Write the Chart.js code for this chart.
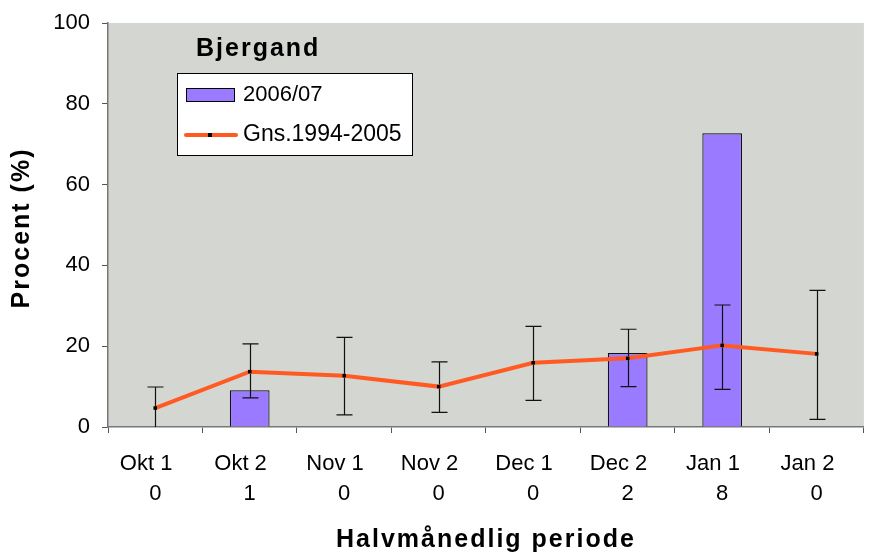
<!DOCTYPE html>
<html>
<head>
<meta charset="utf-8">
<script src="https://cdn.jsdelivr.net/npm/chart.js@4"></script>
<style>
  html, body { margin: 0; padding: 0; background: #ffffff; }
  #wrap { width: 869px; height: 557px; }
</style>
</head>
<body>
<div id="wrap"><canvas id="chart"></canvas></div>
<script>
const periods = ["Okt 1", "Okt 2", "Nov 1", "Nov 2", "Dec 1", "Dec 2", "Jan 1", "Jan 2"];
const counts = [0, 1, 0, 0, 0, 2, 8, 0];
const season = [null, 9.1, null, null, null, 18.3, 72.7, null];
const average = [4.7, 13.7, 12.7, 10.0, 15.9, 17.0, 20.2, 18.1];
const errLow = [0, 7.2, 3.0, 3.6, 6.6, 10.0, 9.3, 1.9];
const errHigh = [9.9, 20.6, 22.2, 16.1, 24.9, 24.2, 30.2, 33.8];
const chartTitle = "Bjergand";
const xTitle = "Halvmånedlig periode";
const yTitle = "Procent (%)";

const FONT = "'Liberation Sans', Arial, sans-serif";

const plotBg = {
  id: "plotBg",
  beforeDraw(chart) {
    const { ctx, chartArea: a } = chart;
    ctx.save();
    ctx.fillStyle = "#d4d6d1";
    ctx.fillRect(a.left, a.top, a.right - a.left, a.bottom - a.top);
    ctx.restore();
  }
};

// error bars drawn just before the average line, so the line sits on top
const errorBars = {
  id: "errorBars",
  beforeDatasetDraw(chart, args) {
    if (args.index !== 1) return;
    const { ctx } = chart;
    const x = chart.scales.x, y = chart.scales.y;
    ctx.save();
    ctx.strokeStyle = "#111111";
    ctx.lineWidth = 1.2;
    errLow.forEach((lo, i) => {
      const px = Math.round(x.getPixelForValue(i)) + 0.5;
      const yl = y.getPixelForValue(lo), yh = y.getPixelForValue(errHigh[i]);
      ctx.beginPath();
      ctx.moveTo(px, yl); ctx.lineTo(px, yh);
      ctx.moveTo(px - 8, yh); ctx.lineTo(px + 8, yh);
      if (lo > 0) { ctx.moveTo(px - 8, yl); ctx.lineTo(px + 8, yl); }
      ctx.stroke();
    });
    ctx.restore();
  }
};

// axis titles, drawn by hand because they are letter-spaced
const axisTitles = {
  id: "axisTitles",
  afterDraw(chart) {
    const { ctx, chartArea: a } = chart;
    ctx.save();
    ctx.fillStyle = "#000";
    ctx.font = "bold 25px " + FONT;
    ctx.letterSpacing = "2px";
    ctx.textAlign = "center";
    ctx.textBaseline = "middle";
    ctx.fillText(xTitle, (a.left + a.right) / 2, 540);
    ctx.translate(22, (a.top + a.bottom) / 2 + 3);
    ctx.rotate(-Math.PI / 2);
    ctx.fillText(yTitle, 0, 0);
    ctx.restore();
  }
};

const boxLegend = {
  id: "boxLegend",
  afterDraw(chart) {
    const { ctx, chartArea: a } = chart;
    const ds = chart.data.datasets;
    const bx = a.left + 69, by = a.top + 50, bw = 235, bh = 82;
    ctx.save();
    ctx.font = "bold 25px " + FONT;
    ctx.letterSpacing = "2px";
    ctx.fillStyle = "#000";
    ctx.textBaseline = "middle";
    ctx.fillText(chartTitle, a.left + 88, a.top + 26);
    ctx.letterSpacing = "0px";
    ctx.fillStyle = "#ffffff";
    ctx.fillRect(bx, by, bw, bh);
    ctx.strokeStyle = "#000";
    ctx.lineWidth = 1;
    ctx.strokeRect(bx + 0.5, by + 0.5, bw, bh);
    // bar swatch
    ctx.fillStyle = ds[0].backgroundColor;
    ctx.fillRect(bx + 9, by + 15, 48, 13);
    ctx.strokeRect(bx + 9.5, by + 15.5, 48, 13);
    // line swatch
    ctx.strokeStyle = ds[1].borderColor;
    ctx.lineWidth = 4;
    ctx.lineCap = "round";
    ctx.beginPath();
    ctx.moveTo(bx + 9, by + 62); ctx.lineTo(bx + 59, by + 62);
    ctx.stroke();
    ctx.fillStyle = "#000";
    ctx.fillRect(bx + 31, by + 60, 4, 4);
    ctx.font = "22px " + FONT;
    ctx.fillText(ds[0].label, bx + 66, by + 22);
    ctx.font = "23px " + FONT;
    ctx.fillText(ds[1].label, bx + 66, by + 62);
    ctx.restore();
  }
};

new Chart(document.getElementById("chart"), {
  data: {
    labels: periods.map((p, i) => [p + "   ", String(counts[i])]),
    datasets: [
      {
        type: "bar",
        label: "2006/07",
        data: season,
        backgroundColor: "#9a7bff",
        borderColor: "#111111",
        borderWidth: 1.2,
        categoryPercentage: 1,
        barPercentage: 0.42,
        order: 2
      },
      {
        type: "line",
        label: "Gns.1994-2005",
        data: average,
        borderColor: "#ff5a22",
        borderWidth: 4,
        pointStyle: "rect",
        pointRadius: 2.5,
        pointBackgroundColor: "#000",
        pointBorderColor: "#000",
        pointBorderWidth: 0,
        tension: 0,
        order: 1
      }
    ]
  },
  options: {
    responsive: true,
    maintainAspectRatio: false,
    animation: false,
    layout: { padding: { top: 22, right: 3, bottom: 0, left: 0 } },
    plugins: { legend: { display: false }, tooltip: { enabled: false } },
    scales: {
      x: {
        offset: true,
        grid: { offset: true, drawOnChartArea: false, tickLength: 6, tickColor: "#555" },
        border: { color: "#777", width: 1.5 },
        ticks: { color: "#000", font: { family: FONT, size: 22, lineHeight: 1.36 }, padding: 16, maxRotation: 0 },
        afterFit(scale) { scale.height = 130; }
      },
      y: {
        min: 0,
        max: 100,
        ticks: { stepSize: 20, color: "#000", font: { family: FONT, size: 22, lineHeight: 1 }, padding: 12 },
        grid: { drawOnChartArea: false, tickLength: 6, tickColor: "#555" },
        border: { color: "#777", width: 1.5 },
        afterFit(scale) { scale.width = 108; }
      }
    }
  },
  plugins: [plotBg, errorBars, axisTitles, boxLegend]
});
</script>
</body>
</html>
